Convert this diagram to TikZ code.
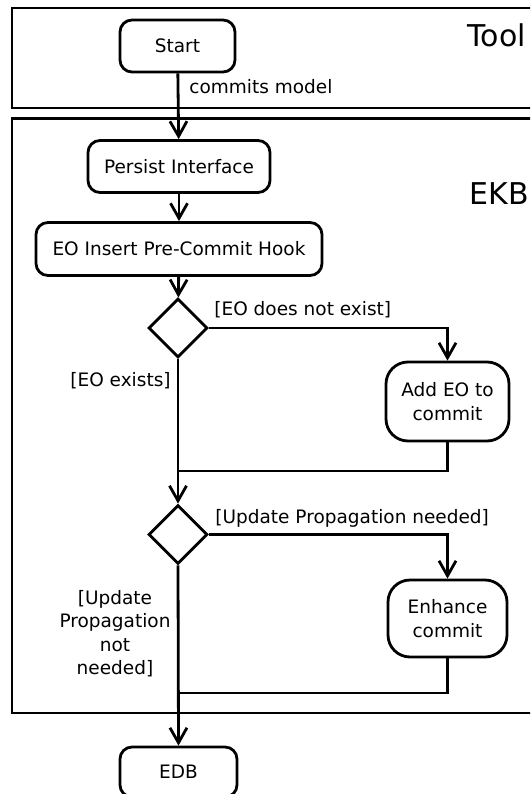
\documentclass[tikz,border=0pt]{standalone}
\usepackage{fontspec}
\setmainfont{DejaVu Sans}
\usetikzlibrary{arrows.meta,shapes.geometric}
\begin{document}
\begin{tikzpicture}[x=1pt,y=-1pt,
  line width=2.8pt,
  >={Straight Barb[length=15pt,width=17pt]},
  font=\fontsize{18.5}{23.5}\selectfont,
  frame/.style={draw,line width=2.8pt},
  act/.style={draw,fill=white,rounded corners=12pt,minimum height=52pt,inner sep=0pt},
  act2/.style={draw,fill=white,rounded corners=22pt,align=center,inner sep=0pt},
  choice/.style={draw,fill=white,diamond,aspect=1,minimum width=59pt,minimum height=59pt,inner sep=0pt},
  guard/.style={inner sep=0pt},
  lane/.style={inner sep=0pt,font=\fontsize{30}{36}\selectfont}]
\clip (0,0) rectangle (530,794);

% swimlanes
\draw[frame] (12,8) rectangle (560,108);
\draw[frame] (12,118.5) rectangle (560,713);
\node[lane,anchor=base west] (toollbl) at (466,47) {Tool};
\node[lane,anchor=base west] (ekblbl) at (468,205) {EKB};

% activities
\node[act,minimum width=115pt] (start) at (177.5,46) {Start};
\node[act,minimum width=182pt] (persist) at (179,166.5) {Persist Interface};
\node[act,minimum width=286pt,minimum height=53pt] (hook) at (179,249) {EO Insert Pre-Commit Hook};
\node[choice] (d1) at (178,328) {};
\node[act2,minimum width=123pt,minimum height=79pt] (add) at (447.5,401.5) {Add EO to\\commit};
\node[choice] (d2) at (178,534.5) {};
\node[act2,minimum width=119pt,minimum height=77pt] (enh) at (447.5,618.5) {Enhance\\commit};
\node[act,minimum width=117pt,minimum height=50pt] (edb) at (178.5,772) {EDB};

\coordinate (j1) at (178,471);
\coordinate (j2) at (178,693);

% flow
\draw[->] (start) -- (persist);
\node[guard,anchor=west] (cm) at (188,87) {commits model};
\draw[->] (persist) -- (hook);
\draw[->] (hook) -- (d1);
\draw[->] (d1.east) -| (add.north);
\node[guard,anchor=west] (g1) at (213,310) {[EO does not exist]};
\node[guard,anchor=east] (g2) at (172,381) {[EO exists]};
\draw[->] (d1.south) -- (d2.north);
\draw (add.south) |- (j1);
\draw[->] (d2.east) -| (enh.north);
\node[guard,anchor=west] (g3) at (214,518) {[Update Propagation needed]};
\node[guard,align=center] (g4) at (115,633.5) {[Update\\Propagation\\not\\needed]};
\draw[->] (d2.south) -- (edb.north);
\draw (enh.south) |- (j2);
\end{tikzpicture}
\end{document}
